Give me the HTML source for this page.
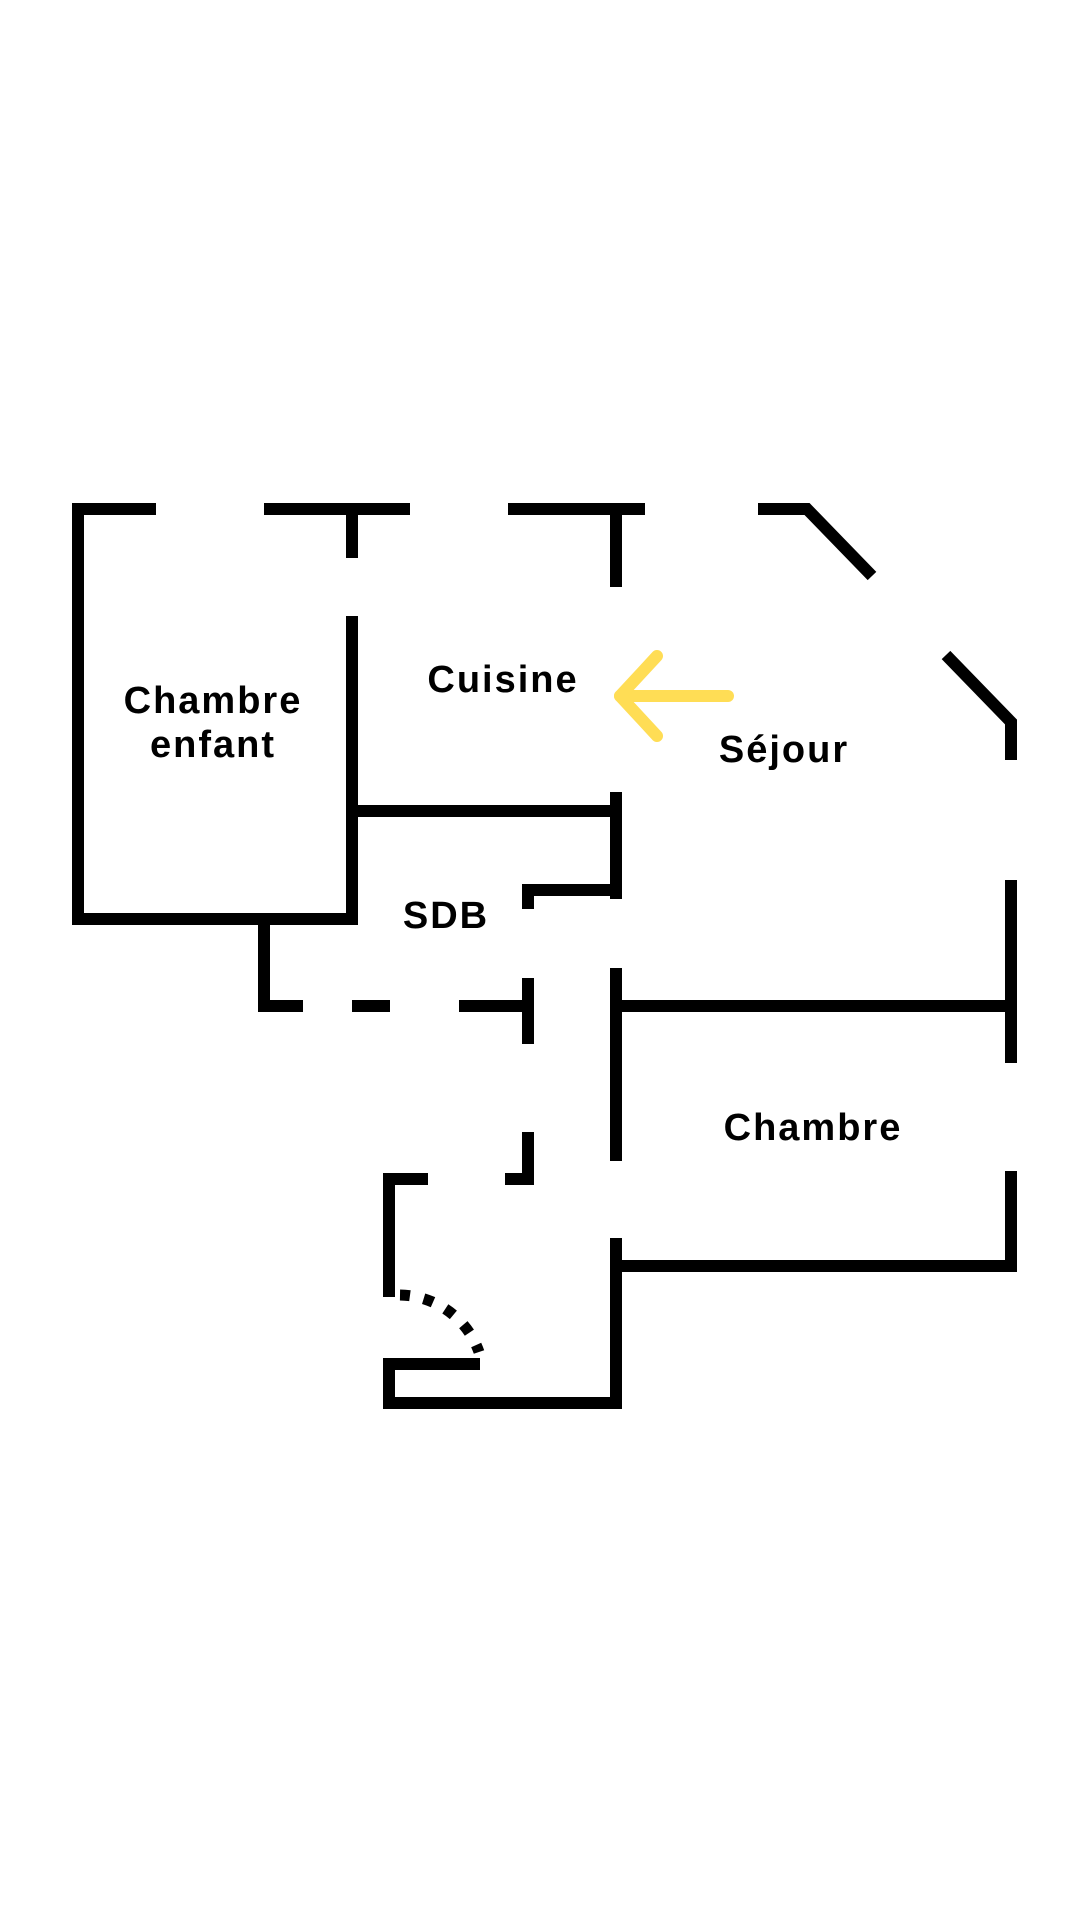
<!DOCTYPE html>
<html><head><meta charset="utf-8"><style>
html,body{margin:0;padding:0;background:#fff}
svg{display:block}
text{font-family:"Liberation Sans",sans-serif;font-weight:bold;fill:#000;text-anchor:middle;letter-spacing:2px}
</style></head><body>
<svg width="1080" height="1920" viewBox="0 0 1080 1920" xmlns="http://www.w3.org/2000/svg">
<g stroke="#000" stroke-width="12" fill="none" stroke-linecap="butt" stroke-linejoin="miter">
<polyline points="156,509 78,509 78,919 358,919"/>
<line x1="264" y1="509" x2="410" y2="509"/>
<line x1="508" y1="509" x2="645" y2="509"/>
<polyline points="758,509 807,509 872,576"/>
<polyline points="946,655 1011,722 1011,760"/>
<line x1="352" y1="509" x2="352" y2="558"/>
<line x1="616" y1="509" x2="616" y2="587"/>
<line x1="352" y1="616" x2="352" y2="925"/>
<line x1="352" y1="811" x2="616" y2="811"/>
<line x1="616" y1="792" x2="616" y2="899"/>
<polyline points="528,909 528,890 616,890"/>
<polyline points="264,919 264,1006 303,1006"/>
<line x1="352" y1="1006" x2="390" y2="1006"/>
<line x1="459" y1="1006" x2="528" y2="1006"/>
<line x1="528" y1="978" x2="528" y2="1044"/>
<line x1="616" y1="968" x2="616" y2="1161"/>
<line x1="616" y1="1006" x2="1011" y2="1006"/>
<line x1="1011" y1="880" x2="1011" y2="1063"/>
<polyline points="505,1179 528,1179 528,1132"/>
<polyline points="428,1179 389,1179 389,1297"/>
<polyline points="480,1364 389,1364 389,1403 616,1403 616,1238"/>
<polyline points="616,1266 1011,1266 1011,1171"/>
</g>
<path d="M400,1295 A85,85 0 0 1 479,1352" stroke="#000" stroke-width="11" fill="none" stroke-dasharray="10,14"/>
<g stroke="#FFDD55" stroke-width="12" fill="none" stroke-linecap="round" stroke-linejoin="round">
<line x1="728" y1="696" x2="620" y2="696"/>
<polyline points="657,656 620,696 657,736"/>
</g>
<text x="213" y="713" font-size="38">Chambre</text>
<text x="213" y="757" font-size="38">enfant</text>
<text x="503" y="692" font-size="38">Cuisine</text>
<text x="784" y="762" font-size="38">Séjour</text>
<text x="446" y="928" font-size="38">SDB</text>
<text x="813" y="1140" font-size="38">Chambre</text>
</svg>
</body></html>
